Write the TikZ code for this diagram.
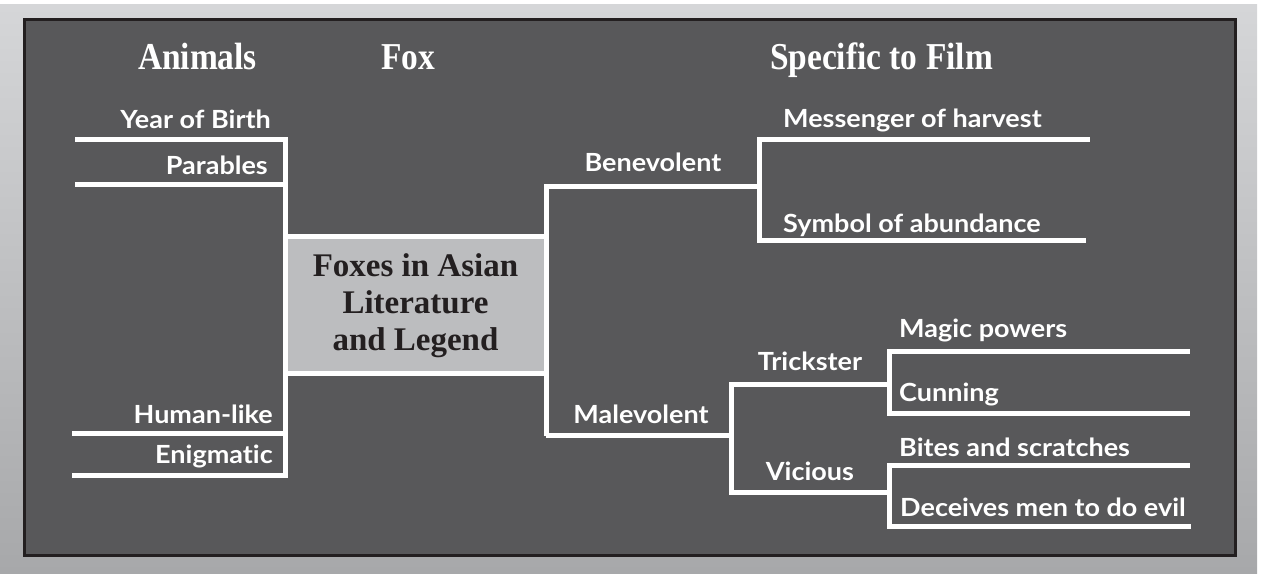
\documentclass[tikz,border=0pt]{standalone}
\usepackage{fontspec}
\newfontfamily\labfont[FakeStretch=1.08, RawFeature=-liga]{Lato}
\newfontfamily\headfont[FakeStretch=0.88]{Liberation Serif}
\newfontfamily\boxfont{Liberation Serif}
\usetikzlibrary{positioning}
\definecolor{panel}{HTML}{58585A}
\definecolor{frame}{HTML}{231F20}
\definecolor{boxgray}{HTML}{BCBDBF}
\definecolor{outtop}{HTML}{D5D6D8}
\definecolor{outbot}{HTML}{A7A8AA}

\begin{document}
\begin{tikzpicture}[x=1pt, y=-1pt,
    tree/.style={white, line width=5pt},
    lab/.style={text=white, inner sep=0pt, font=\labfont\bfseries\fontsize{25}{25}\selectfont},
    head/.style={text=white, inner sep=0pt, anchor=base, font=\headfont\bfseries\fontsize{38}{38}\selectfont}]
  \useasboundingbox (0,0) rectangle (1261,580);
  \shade[top color=outtop, bottom color=outbot] (0,5) rectangle (1257,573);
  \draw[frame, line width=3pt, fill=panel] (24.5,19.5) rectangle (1235.5,555.5);
  % headings
  \node[head] (hanimals) at (197.5,70) {Animals};
  \node[head] (hfox) at (408,70) {Fox};
  \node[head] (hfilm) at (881.5,70) {Specific to Film};
  % junctions
  \coordinate (yb) at (75,140);
  \coordinate (pa) at (75,184.5);
  \coordinate (hl) at (72,433.5);
  \coordinate (en) at (72,475);
  \coordinate (lspine) at (285,475);
  \coordinate (bv) at (546,187);
  \coordinate (mv) at (546,435.5);
  \coordinate (bj) at (759.5,187);
  \coordinate (mh) at (1090,140);
  \coordinate (sa) at (1086,240.5);
  \coordinate (mj) at (731.5,435.5);
  \coordinate (tj) at (889.5,384);
  \coordinate (vj) at (889.5,492.5);
  \coordinate (mp) at (1190,351);
  \coordinate (cu) at (1190,413.5);
  \coordinate (bs) at (1190,465);
  \coordinate (dm) at (1191,526.5);
  % branches
  \draw[tree] (yb) -| (lspine) -- (en);
  \draw[tree] (pa) -- (pa -| lspine);
  \draw[tree] (hl) -- (hl -| lspine);
  \draw[tree] (mv) -- (bv) -- (bj) |- (mh);
  \draw[tree] (bj) |- (sa);
  \draw[tree] (mv) -- (mj) |- (tj) |- (mp);
  \draw[tree] (tj) |- (cu);
  \draw[tree] (mj) |- (vj) |- (bs);
  \draw[tree] (vj) |- (dm);
  \node[draw=white, line width=5pt, fill=boxgray, text=frame, align=center,
    minimum width=261pt, minimum height=136.5pt, inner sep=0pt,
    font=\boxfont\bfseries\fontsize{33}{37}\selectfont] (root) at (415.5,305.25)
    {Foxes in Asian\\Literature\\and Legend};
  % labels
  \node[lab, anchor=base east] (year) at (271,129) {Year of Birth};
  \node[lab, anchor=base east] (parab) at (268,175) {Parables};
  \node[lab, anchor=base east] (human) at (273,423) {Human-like};
  \node[lab, anchor=base east] (enig) at (273,463) {Enigmatic};
  \node[lab, anchor=base] (bene) at (653,172) {Benevolent};
  \node[lab, anchor=base] (male) at (641,423) {Malevolent};
  \node[lab, anchor=base west] (harv) at (783,128) {Messenger of harvest};
  \node[lab, anchor=base west] (abun) at (783,233) {Symbol of abundance};
  \node[lab, anchor=base] (trick) at (810,370) {Trickster};
  \node[lab, anchor=base] (vic) at (810,480) {Vicious};
  \node[lab, anchor=base west] (magic) at (899,337) {Magic powers};
  \node[lab, anchor=base west] (cunn) at (899,401) {Cunning};
  \node[lab, anchor=base west] (bites) at (899,456) {Bites and scratches};
  \node[lab, anchor=base west] (dec) at (900,516) {Deceives men to do evil};
\end{tikzpicture}
\end{document}
